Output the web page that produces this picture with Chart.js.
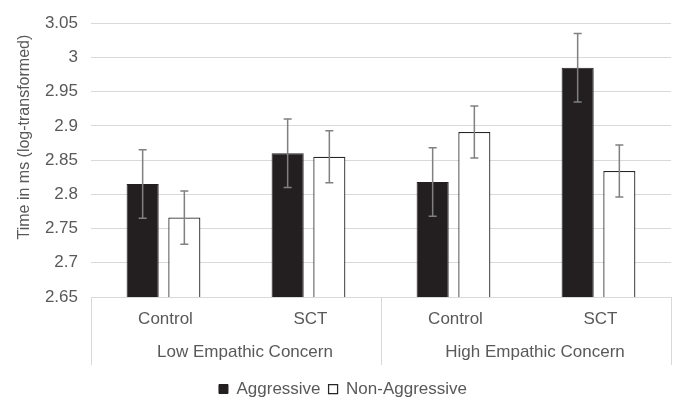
<!DOCTYPE html>
<html>
<head>
<meta charset="utf-8">
<title>Reaction time by empathic concern</title>
<script src="https://cdn.jsdelivr.net/npm/chart.js@4.4.1/dist/chart.umd.min.js"></script>
<style>
    html, body { margin: 0; padding: 0; background: #fff; }
    #wrap { width: 675px; height: 399px; position: relative; }
</style>
</head>
<body>
<div id="wrap"><canvas id="rtChart"></canvas></div>
<script>
// dados
const groups = ['Low Empathic Concern', 'High Empathic Concern'];
const conditions = ['Control', 'SCT', 'Control', 'SCT'];
const aggressive = [2.815, 2.860, 2.818, 2.985];
const aggressiveErr = [0.050, 0.050, 0.050, 0.050];
const nonAggressive = [2.766, 2.855, 2.891, 2.834];
const nonAggressiveErr = [0.039, 0.038, 0.038, 0.038];
const yTicks = [2.65, 2.7, 2.75, 2.8, 2.85, 2.9, 2.95, 3, 3.05];
const yTitle = 'Time in ms (log-transformed)';

const textColor = '#595959';
const gridColor = '#d9d9d9';
const fontFamily = '"Liberation Sans", Arial, sans-serif';
const font = { family: fontFamily, size: 17 };

// barras de erro
const errorBars = {
    id: 'errorBars',
    afterDatasetsDraw(chart) {
        const { ctx } = chart;
        const y = chart.scales.y;
        ctx.save();
        ctx.strokeStyle = '#808080';
        ctx.lineWidth = 1.5;
        chart.data.datasets.forEach((ds, i) => {
            const meta = chart.getDatasetMeta(i);
            meta.data.forEach((bar, j) => {
                const top = y.getPixelForValue(ds.data[j] + ds.errors[j]);
                const bot = y.getPixelForValue(ds.data[j] - ds.errors[j]);
                ctx.beginPath();
                ctx.moveTo(bar.x, top);
                ctx.lineTo(bar.x, bot);
                ctx.moveTo(bar.x - 4, top);
                ctx.lineTo(bar.x + 4, top);
                ctx.moveTo(bar.x - 4, bot);
                ctx.lineTo(bar.x + 4, bot);
                ctx.stroke();
            });
        });
        ctx.restore();
    }
};

// linhas que separam os grupos no eixo x + título do eixo y
const groupLines = {
    id: 'groupLines',
    afterDraw(chart) {
        const { ctx, chartArea } = chart;
        const x = chart.scales.x;
        const x2 = chart.scales.x2;
        ctx.save();
        ctx.strokeStyle = gridColor;
        ctx.lineWidth = 1;
        [-0.5, 1.5, 3.5].forEach(v => {
            const px = Math.round(x.getPixelForValue(v)) + 0.5;
            ctx.beginPath();
            ctx.moveTo(px, chartArea.bottom);
            ctx.lineTo(px, x2.top + 35);
            ctx.stroke();
        });

        // o título fica um pouco acima do centro, como no original
        const midY = (chartArea.top + chartArea.bottom) / 2 - 23;
        ctx.translate(25, midY);
        ctx.rotate(-Math.PI / 2);
        ctx.fillStyle = textColor;
        ctx.font = `16px ${fontFamily}`;
        ctx.textAlign = 'center';
        ctx.textBaseline = 'middle';
        ctx.fillText(yTitle, 0, 0);
        ctx.restore();
    }
};

new Chart(document.getElementById('rtChart'), {
    type: 'bar',
    data: {
        labels: conditions,
        datasets: [{
            label: 'Aggressive',
            data: aggressive,
            errors: aggressiveErr,
            backgroundColor: '#231f20',
            borderColor: '#231f20',
            borderWidth: 1
        }, {
            label: 'Non-Aggressive',
            data: nonAggressive,
            errors: nonAggressiveErr,
            backgroundColor: '#ffffff',
            borderColor: '#262626',
            borderWidth: 1.25
        }]
    },
    options: {
        responsive: true,
        maintainAspectRatio: false,
        animation: false,
        categoryPercentage: 0.575,
        barPercentage: 0.77,
        layout: { padding: { left: 15, right: 4, top: 20, bottom: -8.5 } },
        plugins: {
            tooltip: { enabled: false },
            legend: {
                position: 'bottom',
                labels: {
                    color: textColor,
                    font,
                    boxWidth: 9,
                    boxHeight: 9,
                    padding: 8
                }
            }
        },
        scales: {
            y: {
                min: 2.65,
                max: 3.05,
                afterBuildTicks: axis => { axis.ticks = yTicks.map(v => ({ value: v })); },
                afterFit: axis => { axis.width = 76; },
                grid: { color: gridColor, drawTicks: false },
                border: { display: false },
                ticks: {
                    color: textColor,
                    font,
                    padding: 13,
                    callback: v => String(+v.toFixed(2))
                }
            },
            x: {
                afterFit: axis => { axis.height = 33; },
                grid: { display: false, drawTicks: false },
                border: { display: false },
                ticks: { color: textColor, font, padding: 12, labelOffset: 2 }
            },
            x2: {
                type: 'category',
                position: 'bottom',
                labels: groups,
                offset: true,
                afterFit: axis => { axis.height = 42.5; },
                grid: { display: false, drawTicks: false },
                border: { display: false },
                ticks: { color: textColor, font, padding: 12.5, labelOffset: 9 }
            }
        }
    },
    plugins: [errorBars, groupLines]
});
</script>
</body>
</html>
